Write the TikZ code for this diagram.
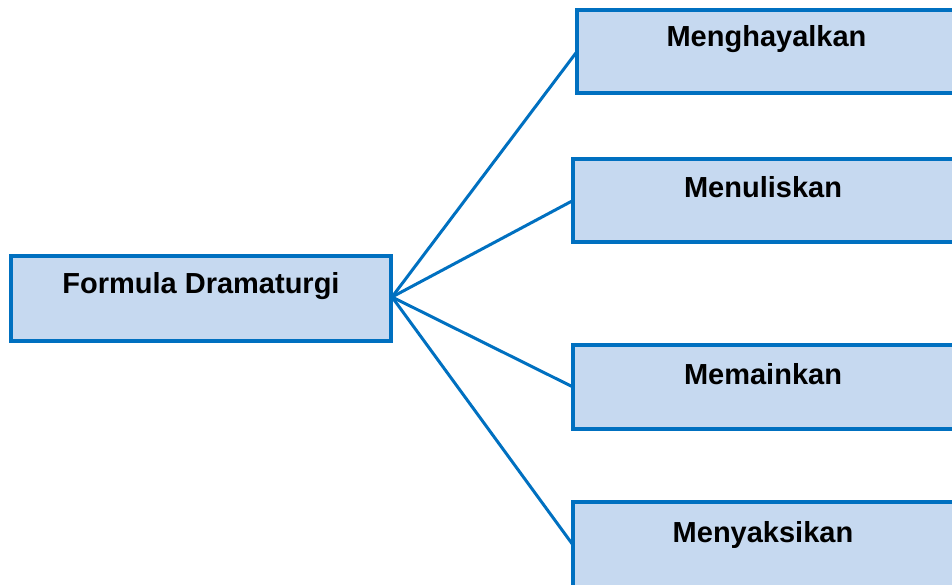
\documentclass[tikz,border=0pt]{standalone}
\usepackage{fontspec}
\setmainfont{Liberation Sans}
\definecolor{boxblue}{HTML}{0070C0}
\definecolor{boxfill}{HTML}{C6D9F0}
\tikzset{
  box/.style={draw=boxblue, fill=boxfill, line width=4pt, rectangle, inner sep=0pt, outer sep=0pt},
  lbl/.style={anchor=base, inner sep=0pt, font=\fontsize{29}{34}\selectfont\bfseries},
  conn/.style={draw=boxblue, line width=3pt}
}
\begin{document}
\begin{tikzpicture}[x=1pt,y=-1pt]
\useasboundingbox (0,0) rectangle (952,584);
\clip (0,0) rectangle (952,584);
\node[box, minimum width=380pt, minimum height=85pt] (f) at (201,298.5) {};
\node[box, minimum width=380pt, minimum height=83pt] (m1) at (767,51.5) {};
\node[box, minimum width=384pt, minimum height=83pt] (m2) at (765,200.5) {};
\node[box, minimum width=384pt, minimum height=84pt] (m3) at (765,387) {};
\node[box, minimum width=384pt, minimum height=100pt] (m4) at (765,552) {};
\node[lbl] (tf) at (201,293) {Formula Dramaturgi};
\node[lbl] (t1) at (766.5,46) {Menghayalkan};
\node[lbl] (t2) at (763,197) {Menuliskan};
\node[lbl] (t3) at (763,384) {Memainkan};
\node[lbl] (t4) at (763,542) {Menyaksikan};
\coordinate (hub) at (392,297);
\draw[conn] (hub) -- (m1.west);
\draw[conn] (hub) -- (m2.west);
\draw[conn] (hub) -- (m3.west);
\draw[conn] (hub) -- ([yshift=7pt]m4.west);
\end{tikzpicture}
\end{document}
